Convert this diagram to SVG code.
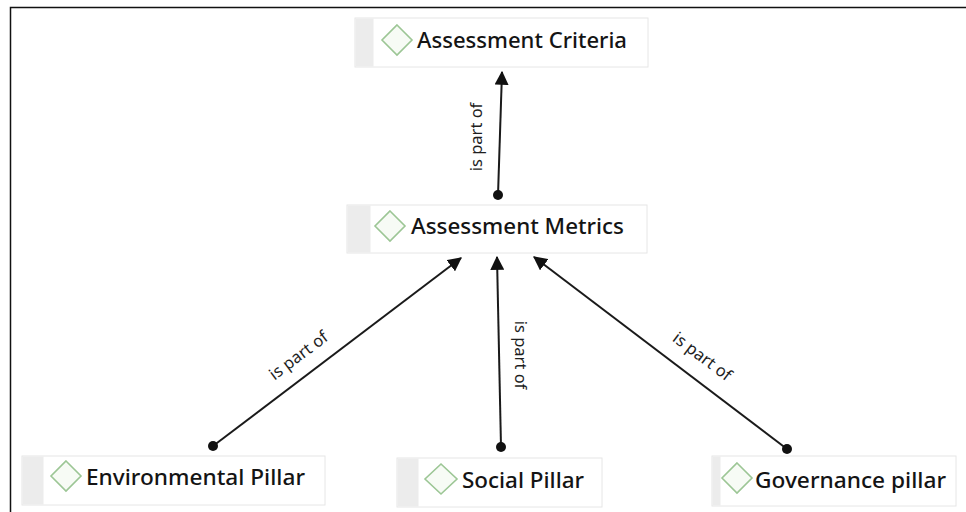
<svg xmlns="http://www.w3.org/2000/svg" width="966" height="512" viewBox="0 0 966 512">
<defs>
<style>
.box{fill:#ffffff;stroke:#e6e6e6;stroke-width:1}
.strip{fill:#ececec}
.dia{fill:#f7fbf5;stroke:#9cc695;stroke-width:1.6}
.lbl{font-family:"Noto Sans","Open Sans",sans-serif;font-size:21px;font-weight:500;fill:#141414}
.edge{stroke:#1a1a1a;stroke-width:2;fill:none;marker-end:url(#arr)}
.dot{fill:#111}
.elbl{font-family:"Noto Sans","Open Sans",sans-serif;font-size:16.5px;fill:#1e1e1e}
</style>
<marker id="arr" viewBox="0 0 12 12" refX="11" refY="6" markerWidth="7" markerHeight="7" orient="auto" markerUnits="strokeWidth">
<path d="M0,0 L12,6 L0,12 Z" fill="#111"/>
</marker>
</defs>
<rect x="0" y="0" width="966" height="512" fill="#ffffff"/>
<path d="M10.5,512 L10.5,7.5 L966,7.5" fill="none" stroke="#111" stroke-width="1.5"/>

<g id="connectors">
<line class="edge" x1="498" y1="195" x2="502" y2="72"/>
<circle class="dot" cx="498" cy="195" r="5"/>
<text class="elbl" transform="translate(482,137) rotate(-90)" text-anchor="middle">is part of</text>

<line class="edge" x1="213" y1="446" x2="461" y2="258"/>
<circle class="dot" cx="213" cy="446" r="5"/>
<text class="elbl" transform="translate(302,360) rotate(-37)" text-anchor="middle">is part of</text>

<line class="edge" x1="501" y1="447" x2="497" y2="257"/>
<circle class="dot" cx="501" cy="447" r="5"/>
<text class="elbl" transform="translate(515,355) rotate(90)" text-anchor="middle">is part of</text>

<line class="edge" x1="787" y1="449" x2="534" y2="257"/>
<circle class="dot" cx="787" cy="449" r="5"/>
<text class="elbl" transform="translate(699,361) rotate(37)" text-anchor="middle">is part of</text>
</g>

<g id="assessment-criteria">
<rect class="box" x="355" y="18" width="293" height="49"/>
<rect class="strip" x="355.5" y="18.5" width="18" height="48"/>
<path class="dia" d="M397,25 L412,40 L397,55 L382,40 Z"/>
<text class="lbl" x="417" y="48" textLength="210" lengthAdjust="spacingAndGlyphs">Assessment Criteria</text>
</g>

<g id="assessment-metrics">
<rect class="box" x="347" y="205" width="300" height="48"/>
<rect class="strip" x="347.5" y="205.5" width="23" height="47"/>
<path class="dia" d="M390,211 L405,226 L390,241 L375,226 Z"/>
<text class="lbl" x="411" y="234" textLength="213" lengthAdjust="spacingAndGlyphs">Assessment Metrics</text>
</g>

<g id="environmental-pillar">
<rect class="box" x="22" y="456" width="303" height="49"/>
<rect class="strip" x="22.5" y="456.5" width="21" height="48"/>
<path class="dia" d="M66,461 L81,476 L66,491 L51,476 Z"/>
<text class="lbl" x="86" y="485" textLength="219" lengthAdjust="spacingAndGlyphs">Environmental Pillar</text>
</g>

<g id="social-pillar">
<rect class="box" x="397" y="458" width="205" height="49"/>
<rect class="strip" x="397.5" y="458.5" width="21" height="48"/>
<path class="dia" d="M441,464 L457,479 L441,494 L425,479 Z"/>
<text class="lbl" x="462" y="488" textLength="122" lengthAdjust="spacingAndGlyphs">Social Pillar</text>
</g>

<g id="governance-pillar">
<rect class="box" x="712" y="456" width="244" height="50"/>
<rect class="strip" x="712.5" y="456.5" width="8" height="49"/>
<path class="dia" d="M737,463 L752,478 L737,493 L722,478 Z"/>
<text class="lbl" x="755" y="488" textLength="191" lengthAdjust="spacingAndGlyphs">Governance pillar</text>
</g>
</svg>
